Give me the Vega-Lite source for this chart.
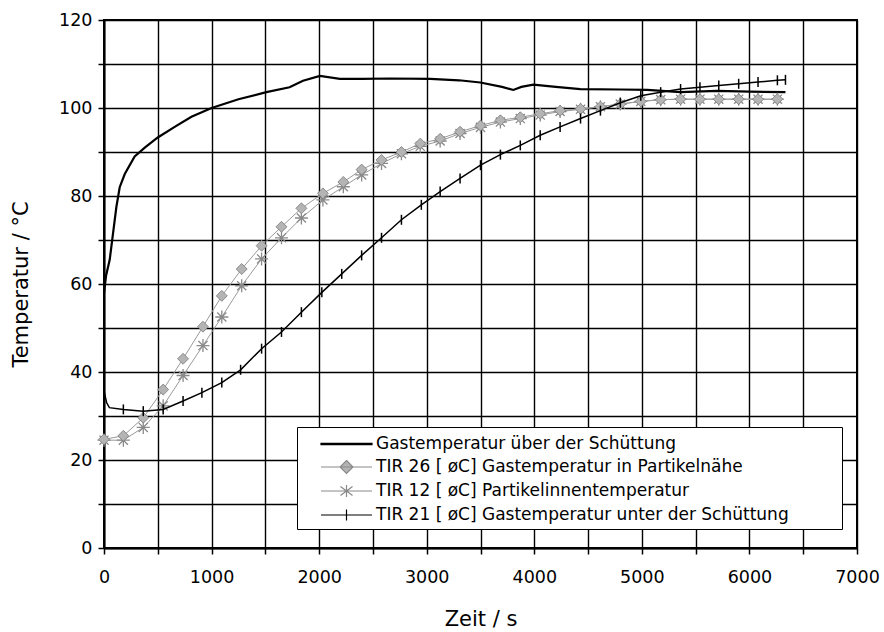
{
  "$schema": "https://vega.github.io/schema/vega-lite/v6.json",
  "width": 753,
  "height": 528,
  "autosize": {"type": "none"},
  "padding": {"left": 104, "top": 20, "right": 27, "bottom": 84},
  "background": "white",
  "config": {
    "font": "DejaVu Sans",
    "view": {"stroke": "black", "strokeWidth": 2},
    "axis": {
      "domainColor": "black", "domainWidth": 2,
      "gridColor": "black", "gridWidth": 1.4, "gridOpacity": 1,
      "tickColor": "black", "tickWidth": 1.5, "tickSize": 6,
      "labelColor": "black", "labelFont": "DejaVu Sans", "labelFontSize": 17.5,
      "titleFont": "DejaVu Sans", "titleFontSize": 21, "titleFontWeight": "normal", "titleColor": "black",
      "labelOverlap": false
    },
    "axisX": {"labelPadding": 14, "titlePadding": 23, "labelFlush": false},
    "axisY": {"labelPadding": 6, "titlePadding": 27}
  },
  "datasets": {
    "gas": [
      {"t": 0, "T": 58}, {"t": 20, "T": 62}, {"t": 53, "T": 65.5}, {"t": 84, "T": 71.5},
      {"t": 115, "T": 77.5}, {"t": 146, "T": 82}, {"t": 193, "T": 85}, {"t": 285, "T": 89},
      {"t": 379, "T": 91}, {"t": 500, "T": 93.3}, {"t": 657, "T": 95.7}, {"t": 813, "T": 98},
      {"t": 1000, "T": 100}, {"t": 1250, "T": 102}, {"t": 1510, "T": 103.6}, {"t": 1725, "T": 104.7},
      {"t": 1850, "T": 106.2}, {"t": 2007, "T": 107.3}, {"t": 2193, "T": 106.6}, {"t": 2400, "T": 106.6},
      {"t": 2660, "T": 106.7}, {"t": 3033, "T": 106.6}, {"t": 3300, "T": 106.3}, {"t": 3498, "T": 105.8},
      {"t": 3700, "T": 104.8}, {"t": 3805, "T": 104.1}, {"t": 3880, "T": 104.8}, {"t": 3991, "T": 105.3},
      {"t": 4200, "T": 104.8}, {"t": 4428, "T": 104.3}, {"t": 4800, "T": 104.2}, {"t": 5051, "T": 104.1},
      {"t": 5358, "T": 103.6}, {"t": 5700, "T": 103.9}, {"t": 6000, "T": 103.7}, {"t": 6335, "T": 103.6}
    ],
    "tir26": [
      {"t": 0, "T": 24.7}, {"t": 180, "T": 25.5}, {"t": 365, "T": 29.6}, {"t": 550, "T": 36},
      {"t": 735, "T": 43}, {"t": 920, "T": 50.3}, {"t": 1095, "T": 57.3}, {"t": 1280, "T": 63.4},
      {"t": 1465, "T": 68.7}, {"t": 1650, "T": 73}, {"t": 1835, "T": 77.2}, {"t": 2035, "T": 80.6},
      {"t": 2225, "T": 83.2}, {"t": 2395, "T": 86}, {"t": 2580, "T": 88.2}, {"t": 2765, "T": 90},
      {"t": 2940, "T": 91.9}, {"t": 3125, "T": 93}, {"t": 3310, "T": 94.6}, {"t": 3500, "T": 96},
      {"t": 3685, "T": 97.2}, {"t": 3870, "T": 97.9}, {"t": 4055, "T": 98.7}, {"t": 4240, "T": 99.4},
      {"t": 4430, "T": 99.8}, {"t": 4615, "T": 100.3}, {"t": 4800, "T": 100.9}, {"t": 4990, "T": 101.5},
      {"t": 5175, "T": 101.9}, {"t": 5360, "T": 102}, {"t": 5540, "T": 102}, {"t": 5715, "T": 102},
      {"t": 5900, "T": 102}, {"t": 6080, "T": 102}, {"t": 6260, "T": 102}
    ],
    "tir12": [
      {"t": 0, "T": 24.5}, {"t": 180, "T": 24.5}, {"t": 365, "T": 27.4}, {"t": 550, "T": 32.3},
      {"t": 735, "T": 39.2}, {"t": 920, "T": 46}, {"t": 1095, "T": 52.5}, {"t": 1280, "T": 59.6},
      {"t": 1465, "T": 65.7}, {"t": 1650, "T": 70.5}, {"t": 1835, "T": 75}, {"t": 2035, "T": 79.1},
      {"t": 2225, "T": 82.1}, {"t": 2395, "T": 84.8}, {"t": 2580, "T": 87.4}, {"t": 2765, "T": 89.6},
      {"t": 2940, "T": 91.3}, {"t": 3125, "T": 92.5}, {"t": 3310, "T": 94.2}, {"t": 3500, "T": 95.6},
      {"t": 3685, "T": 96.8}, {"t": 3870, "T": 97.6}, {"t": 4055, "T": 98.4}, {"t": 4240, "T": 99.2},
      {"t": 4430, "T": 99.7}, {"t": 4615, "T": 100.3}, {"t": 4800, "T": 100.9}, {"t": 4990, "T": 101.5},
      {"t": 5175, "T": 101.9}, {"t": 5360, "T": 102}, {"t": 5540, "T": 102}, {"t": 5715, "T": 102},
      {"t": 5900, "T": 102}, {"t": 6080, "T": 102}, {"t": 6260, "T": 102}
    ],
    "tir21": [
      {"t": 0, "T": 35.7}, {"t": 25, "T": 33}, {"t": 50, "T": 31.9}, {"t": 180, "T": 31.5},
      {"t": 365, "T": 31.1}, {"t": 550, "T": 31.5}, {"t": 735, "T": 33.4}, {"t": 910, "T": 35.3},
      {"t": 1095, "T": 37.6}, {"t": 1270, "T": 40.5}, {"t": 1465, "T": 45.3}, {"t": 1650, "T": 49.1},
      {"t": 1835, "T": 53.6}, {"t": 2025, "T": 58.1}, {"t": 2210, "T": 62.3}, {"t": 2395, "T": 66.5},
      {"t": 2580, "T": 70.5}, {"t": 2765, "T": 74.6}, {"t": 2950, "T": 78}, {"t": 3125, "T": 81},
      {"t": 3310, "T": 84}, {"t": 3500, "T": 87}, {"t": 3685, "T": 89.4}, {"t": 3870, "T": 91.5},
      {"t": 4055, "T": 93.8}, {"t": 4240, "T": 95.7}, {"t": 4430, "T": 97.6}, {"t": 4615, "T": 99.4},
      {"t": 4800, "T": 101.2}, {"t": 4990, "T": 102.8}, {"t": 5175, "T": 103.6}, {"t": 5360, "T": 104.3},
      {"t": 5540, "T": 104.7}, {"t": 5715, "T": 105.1}, {"t": 5900, "T": 105.5}, {"t": 6080, "T": 105.9},
      {"t": 6260, "T": 106.3}, {"t": 6335, "T": 106.4}
    ],
    "legend": [
      {"series": "Gastemperatur über der Schüttung"},
      {"series": "TIR 26 [ øC] Gastemperatur in Partikelnähe"},
      {"series": "TIR 12 [ øC] Partikelinnentemperatur"},
      {"series": "TIR 21 [ øC] Gastemperatur unter der Schüttung"}
    ]
  },
  "layer": [
    {
      "data": {"name": "gas"},
      "mark": {"type": "line", "color": "black", "strokeWidth": 2.2},
      "encoding": {
        "x": {"field": "t", "type": "quantitative", "scale": {"domain": [0, 7000], "nice": false, "zero": false},
          "axis": {"title": "Zeit / s", "format": "d", "values": [0, 500, 1000, 1500, 2000, 2500, 3000, 3500, 4000, 4500, 5000, 5500, 6000, 6500, 7000],
            "labelExpr": "datum.value % 1000 === 0 ? datum.label : ''"}},
        "y": {"field": "T", "type": "quantitative", "scale": {"domain": [0, 120], "nice": false},
          "axis": {"title": "Temperatur / °C", "values": [0, 10, 20, 30, 40, 50, 60, 70, 80, 90, 100, 110, 120],
            "labelExpr": "datum.value % 20 === 0 ? datum.label : ''"}}
      }
    },
    {
      "data": {"name": "tir12"},
      "mark": {"type": "line", "color": "#9a9a9a", "strokeWidth": 1},
      "encoding": {
        "x": {"field": "t", "type": "quantitative"},
        "y": {"field": "T", "type": "quantitative"}
      }
    },
    {
      "data": {"name": "tir12"},
      "mark": {"type": "point", "shape": "M0,-1V1M-1,0H1M-0.7,-0.7L0.7,0.7M-0.7,0.7L0.7,-0.7", "filled": false, "color": "#8a8a8a", "size": 170, "strokeWidth": 1.3, "opacity": 1},
      "encoding": {
        "x": {"field": "t", "type": "quantitative"},
        "y": {"field": "T", "type": "quantitative"}
      }
    },
    {
      "data": {"name": "tir26"},
      "mark": {"type": "line", "color": "#9a9a9a", "strokeWidth": 1},
      "encoding": {
        "x": {"field": "t", "type": "quantitative"},
        "y": {"field": "T", "type": "quantitative"}
      }
    },
    {
      "data": {"name": "tir26"},
      "mark": {"type": "point", "shape": "diamond", "filled": true, "fill": "#b4b4b4", "stroke": "#7a7a7a", "strokeWidth": 0.8, "size": 120, "opacity": 1},
      "encoding": {
        "x": {"field": "t", "type": "quantitative"},
        "y": {"field": "T", "type": "quantitative"}
      }
    },
    {
      "data": {"name": "tir21"},
      "mark": {"type": "line", "color": "black", "strokeWidth": 1.5},
      "encoding": {
        "x": {"field": "t", "type": "quantitative"},
        "y": {"field": "T", "type": "quantitative"}
      }
    },
    {
      "data": {"name": "tir21"},
      "transform": [{"filter": "datum.t >= 150"}],
      "mark": {"type": "point", "shape": "M0,-1V1", "filled": false, "color": "black", "size": 100, "strokeWidth": 1.5, "opacity": 1},
      "encoding": {
        "x": {"field": "t", "type": "quantitative"},
        "y": {"field": "T", "type": "quantitative"}
      }
    },
    {
      "data": {"name": "legend"},
      "mark": {"type": "point", "filled": true, "opacity": 0, "strokeWidth": 1.2},
      "encoding": {
        "shape": {"field": "series", "type": "nominal",
          "scale": {
            "domain": ["Gastemperatur über der Schüttung", "TIR 26 [ øC] Gastemperatur in Partikelnähe", "TIR 12 [ øC] Partikelinnentemperatur", "TIR 21 [ øC] Gastemperatur unter der Schüttung"],
            "range": ["M0.7,-0.06H5.8V0.06H0.7ZM51.9,0", "M0.7,0H5.8M3.25,-0.65L3.9,0L3.25,0.65L2.6,0Z", "M0.7,0H5.8M3.25,-0.6V0.6M2.65,-0.45L3.85,0.45M2.65,0.45L3.85,-0.45", "M0.7,0H5.8M3.25,-0.55V0.55"]
          },
          "legend": {
            "orient": "none", "legendX": 193, "legendY": 407, "title": null,
            "fillColor": "white", "strokeColor": "black", "padding": 6,
            "symbolSize": 400, "symbolStrokeWidth": 1.2, "symbolOpacity": 1,
            "labelOffset": 51, "labelFont": "DejaVu Sans", "labelFontSize": 17, "labelColor": "black",
            "labelLimit": 600, "rowPadding": 4,
            "encode": {
              "symbols": {"update": {"opacity": {"value": 1}}}
            }
          }
        },
        "fill": {"field": "series", "type": "nominal",
          "scale": {
            "domain": ["Gastemperatur über der Schüttung", "TIR 26 [ øC] Gastemperatur in Partikelnähe", "TIR 12 [ øC] Partikelinnentemperatur", "TIR 21 [ øC] Gastemperatur unter der Schüttung"],
            "range": ["black", "#b4b4b4", "#b4b4b4", "black"]
          }
        },
        "stroke": {"field": "series", "type": "nominal",
          "scale": {
            "domain": ["Gastemperatur über der Schüttung", "TIR 26 [ øC] Gastemperatur in Partikelnähe", "TIR 12 [ øC] Partikelinnentemperatur", "TIR 21 [ øC] Gastemperatur unter der Schüttung"],
            "range": ["black", "#8a8a8a", "#8a8a8a", "black"]
          }
        }
      }
    }
  ]
}
